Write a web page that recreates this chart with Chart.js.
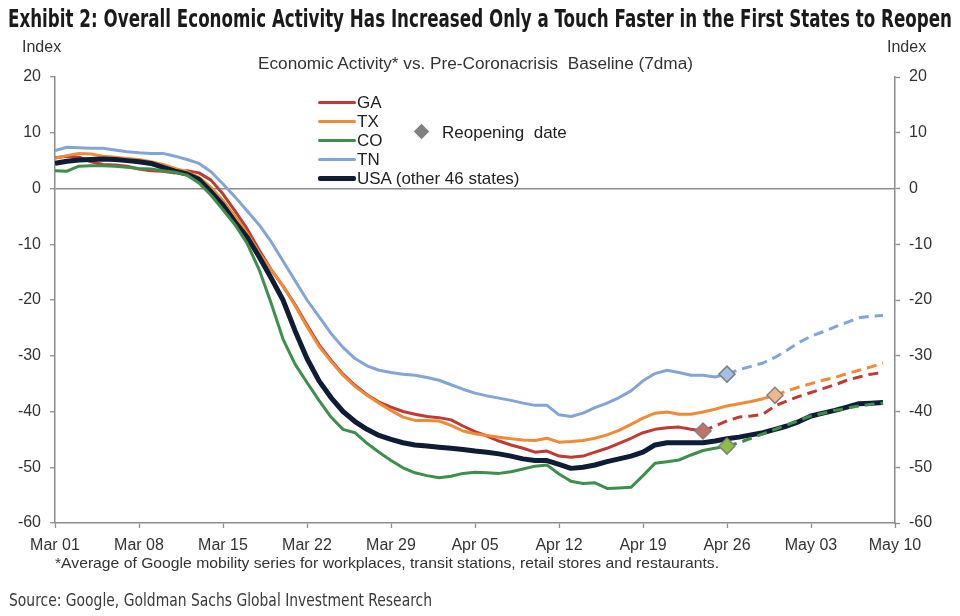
<!DOCTYPE html>
<html><head><meta charset="utf-8">
<script src="https://cdn.jsdelivr.net/npm/chart.js@4.4.0/dist/chart.umd.min.js"></script>
<style>
html,body{margin:0;padding:0;background:#fff;width:960px;height:616px;overflow:hidden;}
#wrap{position:relative;width:960px;height:616px;}
#c{position:absolute;left:0;top:0;}
.t{position:absolute;white-space:nowrap;line-height:1;transform-origin:0 0;color:#333;font-family:"Liberation Sans",Arial,sans-serif;}
.narrow{font-family:"Liberation Sans Narrow","DejaVu Sans Condensed","Liberation Sans",Arial,sans-serif;}
.lg{position:absolute;}
</style></head><body>
<div id="wrap">
<canvas id="c" width="960" height="616"></canvas>
<div class="t narrow" data-w="944" style="left:8px;top:6px;font-size:25px;font-weight:bold;color:#1a1a1a">Exhibit 2: Overall Economic Activity Has Increased Only a Touch Faster in the First States to Reopen</div>
<div class="t" style="left:22px;top:39px;font-size:16px;">Index</div>
<div class="t" style="left:887px;top:39px;font-size:16px;">Index</div>
<div class="t" data-w="435" style="left:258px;top:56px;font-size:16px;">Economic Activity* vs. Pre-Coronacrisis&nbsp; Baseline (7dma)</div>
<div class="t" data-w="664" style="left:55px;top:555px;font-size:15px;">*Average of Google mobility series for workplaces, transit stations, retail stores and restaurants.</div>
<div class="t narrow" data-w="423" style="left:9px;top:592px;font-size:17px;color:#3a3a3a">Source: Google, Goldman Sachs Global Investment Research</div>
<div id="legend"></div>
</div>
<script>
// ---- data ----
const xTickLabels = ['Mar 01','Mar 08','Mar 15','Mar 22','Mar 29','Apr 05','Apr 12','Apr 19','Apr 26','May 03','May 10'];
const seriesNames = ['GA','TX','CO','TN','USA (other 46 states)'];
const GA = [5.5,5.8,5.6,4.8,4.3,4.2,4.0,3.5,3.2,3.1,2.8,3.2,2.8,1.5,-1.0,-4.0,-7.2,-11.0,-14.5,-17.5,-20.8,-24.5,-28.0,-30.8,-33.3,-35.3,-37.0,-38.3,-39.2,-40.0,-40.5,-40.9,-41.1,-41.5,-42.6,-43.6,-44.4,-45.3,-46.0,-46.6,-47.3,-47.1,-48.0,-48.2,-48.0,-47.3,-46.6,-45.7,-44.8,-43.8,-43.2,-42.9,-42.8,-43.2,-43.5,-42.6,-41.7,-41.0,-40.8,-40.5,-39.0,-38.1,-37.3,-36.6,-35.9,-35.2,-34.4,-33.8,-33.3,-33.0];
const TX = [5.4,5.9,6.3,6.2,5.8,5.6,5.4,5.2,4.8,4.3,3.6,3.0,2.0,0.2,-2.2,-5.0,-8.0,-11.5,-14.5,-17.5,-21.0,-24.8,-28.3,-31.0,-33.5,-35.5,-37.1,-38.5,-39.8,-41.0,-41.6,-41.6,-41.7,-42.5,-43.5,-44.0,-44.3,-44.6,-44.9,-45.1,-45.2,-44.8,-45.5,-45.4,-45.2,-44.8,-44.2,-43.4,-42.3,-41.2,-40.3,-40.1,-40.5,-40.5,-40.1,-39.6,-39.0,-38.6,-38.2,-37.7,-37.1,-36.3,-35.6,-35.0,-34.4,-33.9,-33.2,-32.6,-32.0,-31.3];
const CO = [3.2,3.1,4.0,4.1,4.1,4.0,3.8,3.6,3.5,3.2,2.9,2.4,1.0,-1.2,-3.8,-6.5,-9.8,-14.5,-20.5,-27.0,-31.5,-34.8,-38.0,-41.0,-43.2,-43.8,-45.7,-47.3,-48.8,-50.1,-51.0,-51.5,-51.9,-51.6,-51.1,-50.9,-51.0,-51.1,-50.8,-50.3,-49.8,-49.6,-51.2,-52.5,-52.9,-52.8,-53.8,-53.7,-53.6,-51.5,-49.3,-49.0,-48.7,-47.8,-47.0,-46.6,-46.2,-45.6,-44.8,-44.0,-43.2,-42.4,-41.6,-40.8,-40.3,-39.8,-39.4,-39.0,-38.7,-38.5];
const TN = [6.8,7.4,7.3,7.2,7.2,6.9,6.6,6.4,6.3,6.3,5.8,5.2,4.5,3.0,0.8,-1.5,-4.0,-6.5,-9.5,-13.0,-16.5,-20.0,-23.0,-26.0,-28.5,-30.5,-31.8,-32.6,-33.0,-33.3,-33.5,-33.9,-34.4,-35.2,-36.0,-36.7,-37.2,-37.6,-38.0,-38.5,-38.9,-38.9,-40.6,-40.9,-40.3,-39.3,-38.5,-37.5,-36.3,-34.5,-33.2,-32.6,-33.0,-33.5,-33.5,-33.8,-33.3,-32.5,-31.9,-31.3,-30.3,-29.0,-27.6,-26.5,-25.7,-24.8,-24.0,-23.2,-22.9,-22.8];
const USA = [4.5,4.9,5.1,5.2,5.3,5.2,5.0,4.8,4.5,3.8,3.1,2.6,1.6,-0.6,-3.0,-6.0,-8.7,-12.2,-16.0,-20.0,-25.5,-30.5,-34.5,-37.5,-40.0,-41.8,-43.2,-44.3,-45.0,-45.6,-46.0,-46.2,-46.4,-46.6,-46.8,-47.1,-47.3,-47.6,-48.0,-48.5,-48.8,-48.8,-49.5,-50.2,-50.0,-49.6,-49.0,-48.5,-48.0,-47.3,-46.0,-45.6,-45.6,-45.6,-45.6,-45.3,-44.9,-44.6,-44.2,-43.8,-43.2,-42.6,-41.8,-40.8,-40.3,-39.8,-39.2,-38.6,-38.5,-38.4];
// reopening day index (days since Mar 01); null = no reopening
const reopenDay = [54, 60, 56, 56, null];

// ---- styles ----
const lineColors = ['#BF3A33','#EF8A36','#3E8E4C','#82A5D6','#0E1C36'];
const diamondColors = ['#C4706C','#F0B888','#8CC043','#A3C1E8',null];
const lineWidths = [3,3,3,3,5];
const drawOrder = [3,2,0,4,1]; // lower = on top
const allSeries = [GA,TX,CO,TN,USA];

const datasets = allSeries.map((vals,k)=>{
  const r = reopenDay[k];
  return {
    label: seriesNames[k],
    data: vals.map((v,i)=>({x:i,y:v})),
    borderColor: lineColors[k],
    backgroundColor: lineColors[k],
    borderWidth: lineWidths[k],
    order: drawOrder[k],
    tension: 0,
    borderCapStyle:'butt',
    borderJoinStyle:'round',
    yAxisID:'y',
    pointStyle:'rectRot',
    pointRadius: ctx => (r!==null && ctx.dataIndex===r) ? 8 : 0,
    pointHoverRadius: 0,
    pointBackgroundColor: diamondColors[k] || lineColors[k],
    pointBorderColor:'#808080',
    pointBorderWidth:1.5,
    segment: { borderDash: ctx => (r!==null && ctx.p0DataIndex >= r) ? [10,6] : undefined }
  };
});

const AX = '#8c8c8c';
const tickFont = {family:'"Liberation Sans", Arial, sans-serif', size:16};
const TXT = '#333';

new Chart(document.getElementById('c'), {
  type:'line',
  data:{datasets},
  options:{
    responsive:false, animation:false, devicePixelRatio:1,
    layout:{padding:{top:77,left:0,right:0,bottom:0}},
    plugins:{legend:{display:false}, tooltip:{enabled:false}, title:{display:false}},
    scales:{
      x:{type:'linear', min:0, max:70, position:'bottom',
        afterBuildTicks: s => { s.ticks = xTickLabels.map((l,i)=>({value:i*7})); },
        ticks:{autoSkip:false, maxRotation:0, padding:8, font:tickFont, color:TXT,
          callback: v => xTickLabels[Math.round(v/7)]},
        grid:{drawOnChartArea:false, tickLength:5, tickColor:AX, tickWidth:1.3},
        border:{color:AX, width:1.5},
        afterFit: s => { s.height = 93; }
      },
      y:{position:'left', min:-60, max:20,
        ticks:{stepSize:10, padding:9, font:tickFont, color:TXT},
        grid:{color: c => (c.tick && c.tick.value===0) ? AX : 'rgba(0,0,0,0)', lineWidth:1.5, tickColor:AX, tickWidth:1.3, tickLength:5},
        border:{color:AX, width:1.5},
        afterFit: s => { s.width = 55; }
      },
      y2:{position:'right', min:-60, max:20,
        ticks:{stepSize:10, padding:9, font:tickFont, color:TXT},
        grid:{drawOnChartArea:false, tickColor:AX, tickWidth:1.3, tickLength:5},
        border:{color:AX, width:1.5},
        afterFit: s => { s.width = 65; }
      }
    }
  }
});

// ---- legend (HTML) ----
const lg = document.getElementById('legend');
const rowY = [102,121,140,159,178];
seriesNames.forEach((n,k)=>{
  const ln = document.createElement('div');
  ln.className='lg';
  const h = k===4 ? 5 : 3;
  ln.style.cssText = `left:318px;top:${rowY[k]-h/2}px;width:38px;height:${h}px;background:${lineColors[k]};border-radius:2px;`;
  lg.appendChild(ln);
  const tx = document.createElement('div');
  tx.className='t';
  tx.style.cssText = `left:357px;top:${rowY[k]-8.5}px;font-size:17px;color:#222;`;
  tx.textContent = n;
  lg.appendChild(tx);
});
const dm = document.createElement('div');
dm.className='lg';
dm.style.cssText='left:416px;top:126px;width:11px;height:11px;background:#808080;transform:rotate(45deg);';
lg.appendChild(dm);
const rt = document.createElement('div');
rt.className='t';
rt.style.cssText='left:442px;top:123.5px;font-size:17px;color:#222;';
rt.innerHTML='Reopening&nbsp; date';
lg.appendChild(rt);

// fit text widths
function fit(){
  document.querySelectorAll('[data-w]').forEach(el=>{
    el.style.transform='none';
    const w = el.getBoundingClientRect().width;
    const target = +el.dataset.w;
    if (w>0) el.style.transform = `scaleX(${target/w})`;
  });
}
fit();
if (document.fonts && document.fonts.ready) document.fonts.ready.then(fit);
</script>
</body></html>
